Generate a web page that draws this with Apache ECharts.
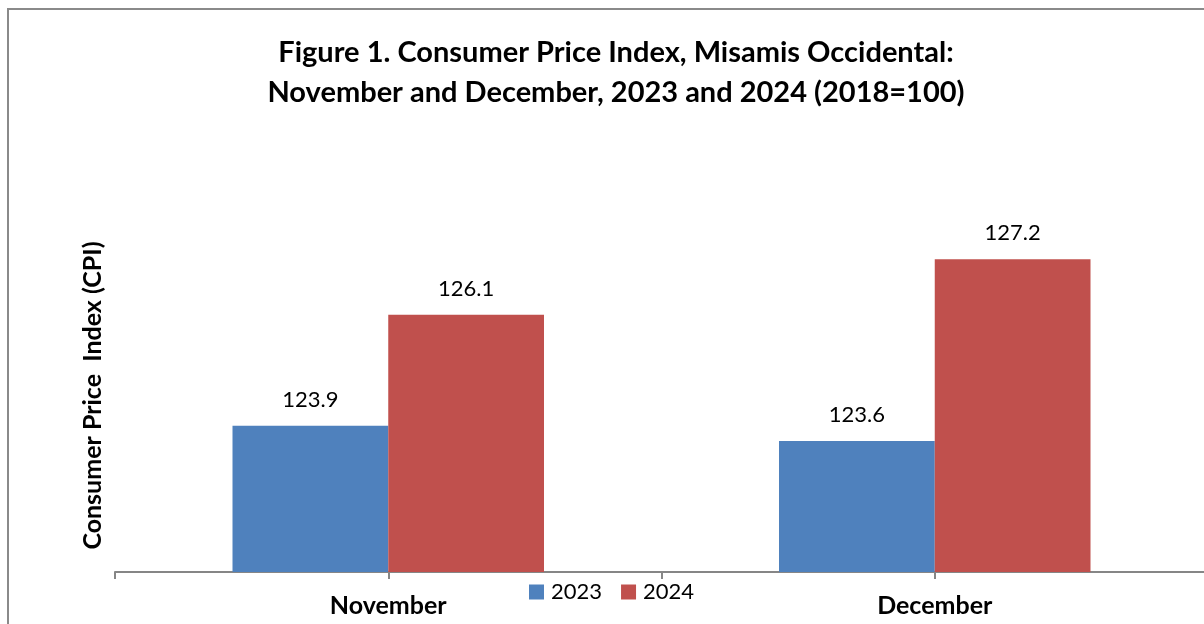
<!DOCTYPE html>
<html>
<head>
<meta charset="utf-8">
<script src="https://cdn.jsdelivr.net/npm/echarts@6/dist/echarts.min.js"></script>
<style>
html,body{margin:0;padding:0;background:#fff;}
#c{width:1204px;height:624px;}
</style>
</head>
<body>
<div id="c"></div>
<script>
const categories = ['November', 'December'];
const seriesNames = ['2023', '2024'];
const values2023 = [123.9, 123.6];
const values2024 = [126.1, 127.2];
const tickSlots = ['', '', '', ''];
const titleLines = ['Figure 1. Consumer Price Index, Misamis Occidental:', 'November and December, 2023 and 2024 (2018=100)'];
const yName = 'Consumer Price  Index (CPI)';

const FONT = 'Lato, "Open Sans", sans-serif';
const chart = echarts.init(document.getElementById('c'));
chart.setOption({
  backgroundColor: '#fff',
  animation: false,
  title: {
    text: titleLines.join('\n'),
    left: 611, top: 28, textAlign: 'center',
    textStyle: { fontFamily: FONT, fontWeight: 'bold', fontSize: 29, lineHeight: 40, color: '#000' }
  },
  graphic: [{
    type: 'rect', shape: { x: 8, y: 9, width: 1220, height: 640 },
    style: { fill: 'none', stroke: '#8a8a8a', lineWidth: 2 }, silent: true, z: -1
  }],
  legend: {
    data: seriesNames, left: 524, top: 576, itemWidth: 15, itemHeight: 15, itemGap: 19,
    icon: 'rect',
    textStyle: { fontFamily: FONT, fontSize: 22, color: '#000', padding: [0, 0, 0, 2] }
  },
  grid: { left: 115, width: 1093, top: 219, height: 353, outerBoundsMode: 'none', containLabel: false },
  xAxis: [{
    type: 'category', data: categories,
    axisLine: { show: true, lineStyle: { color: '#868686', width: 2 } },
    axisTick: { show: false },
    axisLabel: { fontFamily: FONT, fontWeight: 'bold', fontSize: 25, color: '#000', margin: 21 }
  }, {
    type: 'category', data: tickSlots, position: 'bottom',
    axisLine: { show: false },
    axisTick: { show: true, length: 7, lineStyle: { color: '#868686', width: 2 } },
    axisLabel: { show: false }
  }],
  yAxis: {
    type: 'value', min: 121, max: 128,
    axisLine: { show: false }, axisTick: { show: false }, axisLabel: { show: false }, splitLine: { show: false },
    name: yName, nameLocation: 'middle', nameRotate: 90, nameGap: 10,
    nameTextStyle: { fontFamily: FONT, fontWeight: 'bold', fontSize: 25, color: '#000' }
  },
  series: [{
    name: seriesNames[0], type: 'bar', data: values2023, xAxisIndex: 0,
    barGap: '0%', barCategoryGap: '43%',
    itemStyle: { color: '#4F81BD' },
    label: { show: true, position: 'top', distance: 15, fontFamily: FONT, fontSize: 22, color: '#000' }
  }, {
    name: seriesNames[1], type: 'bar', data: values2024, xAxisIndex: 0,
    barGap: '0%', barCategoryGap: '43%',
    itemStyle: { color: '#C0504D' },
    label: { show: true, position: 'top', distance: 15, fontFamily: FONT, fontSize: 22, color: '#000' }
  }]
});
</script>
</body>
</html>
